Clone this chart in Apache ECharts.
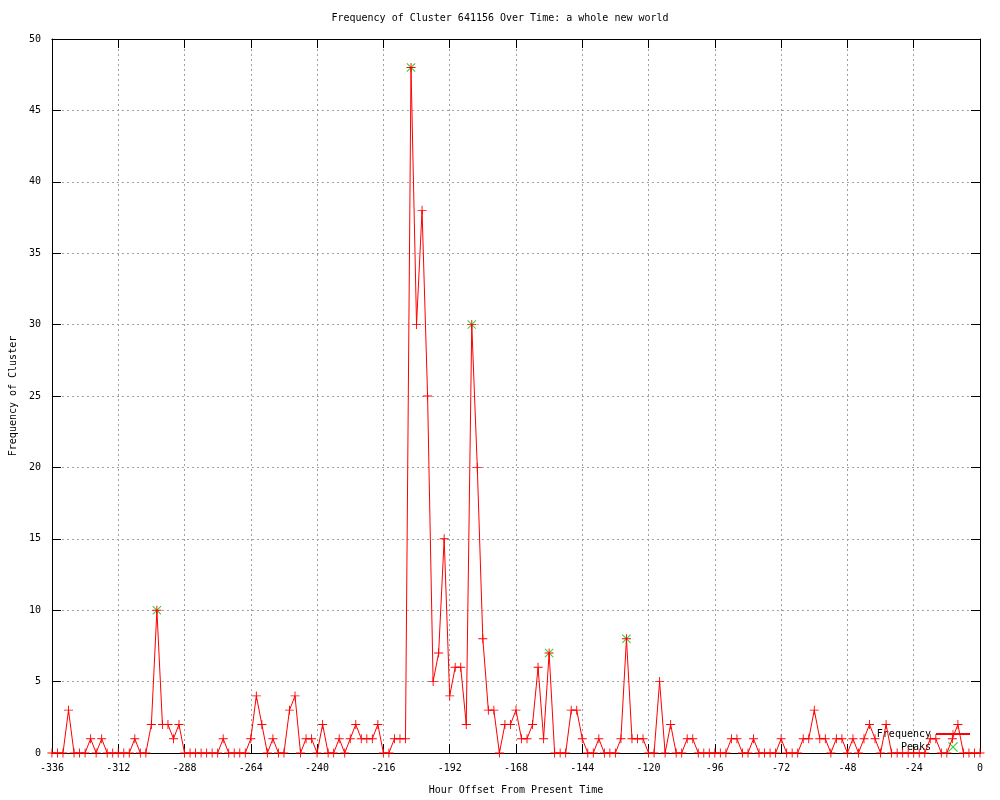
<!DOCTYPE html>
<html>
<head>
<meta charset="utf-8">
<script src="https://cdn.jsdelivr.net/npm/echarts@6/dist/echarts.min.js"></script>
<style>
html,body{margin:0;padding:0;background:#fff;}
#chart{width:1000px;height:800px;}
</style>
</head>
<body>
<div id="chart"></div>
<script>
const TITLE = 'Frequency of Cluster 641156 Over Time: a whole new world';
const X_NAME = 'Hour Offset From Present Time';
const Y_NAME = 'Frequency of Cluster';
const X_TICKS = [-336, -312, -288, -264, -240, -216, -192, -168, -144, -120, -96, -72, -48, -24, 0];
const Y_TICKS = [0, 5, 10, 15, 20, 25, 30, 35, 40, 45, 50];

// one sample every 2 hours from -336 to 0
const HOURS = Array.from({length: 169}, (_, i) => -336 + 2 * i);
const FREQUENCY = [
  0,0,0,3,0,0,0,1,0,1,
  0,0,0,0,0,1,0,0,2,10,
  2,2,1,2,0,0,0,0,0,0,
  0,1,0,0,0,0,1,4,2,0,
  1,0,0,3,4,0,1,1,0,2,
  0,0,1,0,1,2,1,1,1,2,
  0,0,1,1,1,48,30,38,25,5,
  7,15,4,6,6,2,30,20,8,3,
  3,0,2,2,3,1,1,2,6,1,
  7,0,0,0,3,3,1,0,0,1,
  0,0,0,1,8,1,1,1,0,0,
  5,0,2,0,0,1,1,0,0,0,
  0,0,0,1,1,0,0,1,0,0,
  0,0,1,0,0,0,1,1,3,1,
  1,0,1,1,0,1,0,1,2,1,
  0,2,0,0,0,0,0,0,0,1,
  1,0,0,1,2,0,0,0,0
];
const PEAK_HOURS = [-298, -206, -184, -156, -128];
const PEAK_VALUES = [10, 48, 30, 7, 8];

const FONT = 'DejaVu Sans Mono';
const PLUS = 'path://M0,4.5H10V5.5H0Z M4.5,0H5.5V10H4.5Z';
const CROSS = 'path://M0,0.8L0.8,0L10,9.2L9.2,10Z M9.2,0L10,0.8L0.8,10L0,9.2Z';

const freqData = HOURS.map((h, i) => [h, FREQUENCY[i]]);
const peakData = PEAK_HOURS.map((h, i) => [h, PEAK_VALUES[i]]);

const gridLine = {show: true, lineStyle: {color: '#a0a0a0', width: 1, type: [2, 3]}};
const axLine = {show: true, onZero: false, lineStyle: {color: '#000', width: 1}};
const tick = {show: true, inside: true, length: 9, lineStyle: {color: '#000', width: 1}};
const lbl = {color: '#000', fontFamily: FONT, fontSize: 10};

const chart = echarts.init(document.getElementById('chart'), null, {renderer: 'canvas'});
chart.setOption({
  animation: false,
  backgroundColor: '#fff',
  title: {
    text: TITLE, left: 'center', top: 8,
    textStyle: {fontFamily: FONT, fontSize: 10, fontWeight: 'normal', color: '#000'}
  },
  grid: {left: 48, right: 20, top: 39, bottom: 40, containLabel: false},
  legend: {
    data: ['Frequency', 'Peaks'],
    orient: 'vertical', align: 'right',
    right: 24, bottom: 43,
    itemWidth: 34, itemHeight: 10, itemGap: 3,
    textStyle: {fontFamily: FONT, fontSize: 10, color: '#000', padding: [0, 0, 0, 0]},
    inactiveColor: '#ccc'
  },
  xAxis: [{
    type: 'value', position: 'bottom', min: X_TICKS[0], max: X_TICKS[X_TICKS.length - 1], interval: 24,
    name: X_NAME, nameLocation: 'middle', nameGap: 32,
    nameTextStyle: lbl,
    axisLine: axLine, axisTick: tick,
    axisLabel: Object.assign({margin: 10, showMinLabel: true, showMaxLabel: true}, lbl),
    splitLine: gridLine
  }, {
    type: 'value', position: 'top', min: X_TICKS[0], max: X_TICKS[X_TICKS.length - 1], interval: 24,
    axisLine: axLine, axisTick: tick, axisLabel: {show: false}, splitLine: {show: false}
  }],
  yAxis: [{
    type: 'value', position: 'left', min: Y_TICKS[0], max: Y_TICKS[Y_TICKS.length - 1], interval: 5,
    name: Y_NAME, nameLocation: 'middle', nameGap: 32, nameRotate: 90,
    nameTextStyle: lbl,
    axisLine: axLine, axisTick: tick,
    axisLabel: Object.assign({margin: 11}, lbl),
    splitLine: gridLine
  }, {
    type: 'value', position: 'right', min: Y_TICKS[0], max: Y_TICKS[Y_TICKS.length - 1], interval: 5,
    axisLine: axLine, axisTick: tick, axisLabel: {show: false}, splitLine: {show: false}
  }],
  series: [{
    name: 'Peaks', type: 'scatter', xAxisIndex: 0, yAxisIndex: 0,
    data: peakData, symbol: CROSS, symbolSize: 9, z: 3,
    itemStyle: {color: '#00c000'}
  }, {
    name: 'Frequency', type: 'line', xAxisIndex: 0, yAxisIndex: 0,
    data: freqData, symbol: PLUS, symbolSize: 9, showSymbol: true, showAllSymbol: true,
    z: 4, clip: false,
    lineStyle: {color: '#ff0000', width: 1},
    itemStyle: {color: '#ff0000', borderWidth: 0}
  }]
});
</script>
</body>
</html>
